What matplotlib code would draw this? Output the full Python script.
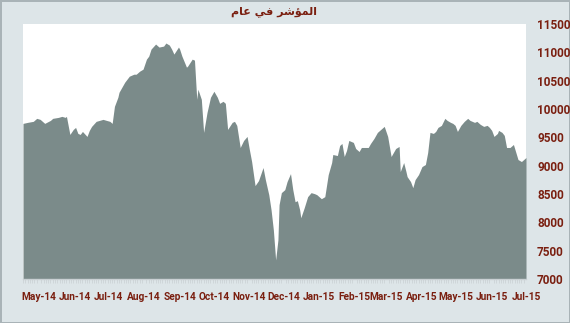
import pandas as pd
import matplotlib
matplotlib.use('Agg')
import matplotlib.pyplot as plt
import matplotlib.dates as mdates

# Index level (key points)
dates = [
    '2014-04-17', '2014-04-21', '2014-04-26', '2014-04-29', '2014-05-02', '2014-05-06',
    '2014-05-11', '2014-05-13', '2014-05-18', '2014-05-21', '2014-05-24', '2014-05-25',
    '2014-05-28', '2014-05-31', '2014-06-02', '2014-06-04', '2014-06-06', '2014-06-08',
    '2014-06-12', '2014-06-14', '2014-06-16', '2014-06-20', '2014-06-26', '2014-06-29',
    '2014-07-02', '2014-07-04', '2014-07-06', '2014-07-09', '2014-07-10', '2014-07-15',
    '2014-07-19', '2014-07-23', '2014-07-25', '2014-07-28', '2014-07-31', '2014-08-03',
    '2014-08-05', '2014-08-07', '2014-08-11', '2014-08-14', '2014-08-18', '2014-08-20',
    '2014-08-23', '2014-08-25', '2014-08-27', '2014-08-31', '2014-09-01', '2014-09-03',
    '2014-09-07', '2014-09-08', '2014-09-12', '2014-09-14', '2014-09-16', '2014-09-17',
    '2014-09-20', '2014-09-22', '2014-09-25', '2014-09-28', '2014-10-01', '2014-10-04',
    '2014-10-06', '2014-10-09', '2014-10-11', '2014-10-13', '2014-10-17', '2014-10-19',
    '2014-10-21', '2014-10-24', '2014-10-27', '2014-10-30', '2014-11-01', '2014-11-03',
    '2014-11-06', '2014-11-09', '2014-11-13', '2014-11-15', '2014-11-18', '2014-11-20',
    '2014-11-22', '2014-11-24', '2014-11-26', '2014-11-27', '2014-11-29', '2014-12-02',
    '2014-12-04', '2014-12-07', '2014-12-09', '2014-12-11', '2014-12-13', '2014-12-15',
    '2014-12-16', '2014-12-19', '2014-12-22', '2014-12-25', '2014-12-28', '2014-12-30',
    '2015-01-03', '2015-01-06', '2015-01-09', '2015-01-12', '2015-01-13', '2015-01-17',
    '2015-01-19', '2015-01-21', '2015-01-23', '2015-01-25', '2015-01-27', '2015-01-31',
    '2015-02-02', '2015-02-05', '2015-02-07', '2015-02-13', '2015-02-15', '2015-02-18',
    '2015-02-21', '2015-02-25', '2015-02-27', '2015-03-02', '2015-03-05', '2015-03-06',
    '2015-03-09', '2015-03-12', '2015-03-13', '2015-03-16', '2015-03-18', '2015-03-19',
    '2015-03-22', '2015-03-24', '2015-03-26', '2015-03-29', '2015-04-01', '2015-04-04',
    '2015-04-06', '2015-04-08', '2015-04-11', '2015-04-13', '2015-04-15', '2015-04-18',
    '2015-04-21', '2015-04-23', '2015-04-26', '2015-04-28', '2015-04-30', '2015-05-02',
    '2015-05-05', '2015-05-08', '2015-05-11', '2015-05-13', '2015-05-17', '2015-05-19',
    '2015-05-22', '2015-05-25', '2015-05-28', '2015-05-30', '2015-06-01', '2015-06-03',
    '2015-06-06', '2015-06-07', '2015-06-10', '2015-06-12', '2015-06-14', '2015-06-17',
    '2015-06-19', '2015-06-20', '2015-06-24', '2015-06-27', '2015-07-01',
]
values = [
    9746, 9764, 9782, 9835, 9817, 9746,
    9799, 9835, 9852, 9870, 9852, 9870,
    9551, 9640, 9675, 9569, 9551, 9604,
    9516, 9622, 9693, 9782, 9817, 9799,
    9782, 9746, 10047, 10207, 10295, 10473,
    10579, 10614, 10614, 10667, 10703, 10880,
    10933, 11057, 11146, 11093, 11110, 11164,
    11128, 11057, 10969, 11093, 11057, 10933,
    10738, 10756, 10880, 10862, 10171, 10349,
    10171, 9587, 9941, 10207, 10313, 10207,
    10100, 10136, 10100, 9640, 9764, 9782,
    9711, 9321, 9445, 9516, 9286, 9073,
    8648, 8736, 8967, 8754, 8488, 8222,
    7868, 7337, 7691, 8311, 8524, 8577,
    8719, 8860, 8577, 8364, 8382, 8222,
    8081, 8258, 8453, 8524, 8506, 8488,
    8417, 8453, 8843, 9055, 9197, 9179,
    9356, 9392, 9162, 9268, 9445, 9410,
    9303, 9250, 9321, 9321, 9392, 9480,
    9587, 9658, 9693, 9516, 9162, 9197,
    9303, 9339, 8896, 9055, 8896, 8807,
    8719, 8612, 8754, 8843, 8984, 9020,
    9232, 9587, 9569, 9604, 9675, 9711,
    9835, 9799, 9764, 9746, 9711, 9604,
    9711, 9782, 9835, 9799, 9764, 9782,
    9729, 9693, 9711, 9675, 9622, 9516,
    9569, 9622, 9587, 9534, 9321, 9321,
    9356, 9374, 9108, 9073, 9144,
]

month_ticks = pd.date_range('2014-05-01', '2015-07-01', freq='MS')
y_ticks = [7000, 7500, 8000, 8500, 9000, 9500, 10000, 10500, 11000, 11500]

# Arabic title in visual order with presentation forms
# (matplotlib does no Arabic shaping): "المؤشر في عام"
title_text = '\uFEE1\uFE8E\uFECB \uFEF2\uFED3 \uFEAE\uFEB7\uFE86\uFEE4\uFEDF\uFE8D'

label_color = '#7a1f10'
fill_color = '#7b8b8a'
bg_color = '#dde5e8'

plt.rcParams['font.family'] = ['Roboto', 'DejaVu Sans']

fig = plt.figure(figsize=(5.7, 3.23), dpi=100, facecolor=bg_color,
                 edgecolor='#a9b3b7', linewidth=2)
ax = fig.add_axes([23 / 570, 1 - 279 / 323, 503 / 570, 255 / 323])
ax.set_facecolor('white')

x = pd.to_datetime(dates)
ax.fill_between(x, 7000, values, color=fill_color, linewidth=0)

ax.set_xlim(pd.Timestamp('2014-04-17'), pd.Timestamp('2015-07-01'))
ax.set_ylim(7000, 11500)

ax.set_xticks(month_ticks)
ax.xaxis.set_major_formatter(mdates.DateFormatter('%b-%y'))
ax.xaxis.set_minor_locator(mdates.DayLocator(interval=2))
ax.set_yticks(y_ticks)

ax.yaxis.tick_right()
ax.tick_params(axis='y', length=0, pad=8, labelsize=8.5, labelcolor=label_color)
ax.tick_params(axis='x', which='major', length=0, pad=9, labelsize=7.3,
               labelcolor=label_color)
ax.tick_params(axis='x', which='minor', length=3, width=0.5, color='#c9d0d3',
               direction='out')
for lbl in ax.get_xticklabels() + ax.get_yticklabels():
    lbl.set_fontweight('bold')

for side in ['top', 'left', 'right']:
    ax.spines[side].set_visible(False)
ax.spines['bottom'].set_color('#c9d0d3')
ax.spines['bottom'].set_linewidth(1)

fig.text(274 / 570, 1 - 12 / 323, title_text, ha='center', va='center',
         fontsize=8, fontweight='bold', color=label_color, family=['DejaVu Sans'])

fig.savefig('out.png', dpi=100, facecolor=bg_color, edgecolor='#a9b3b7')
